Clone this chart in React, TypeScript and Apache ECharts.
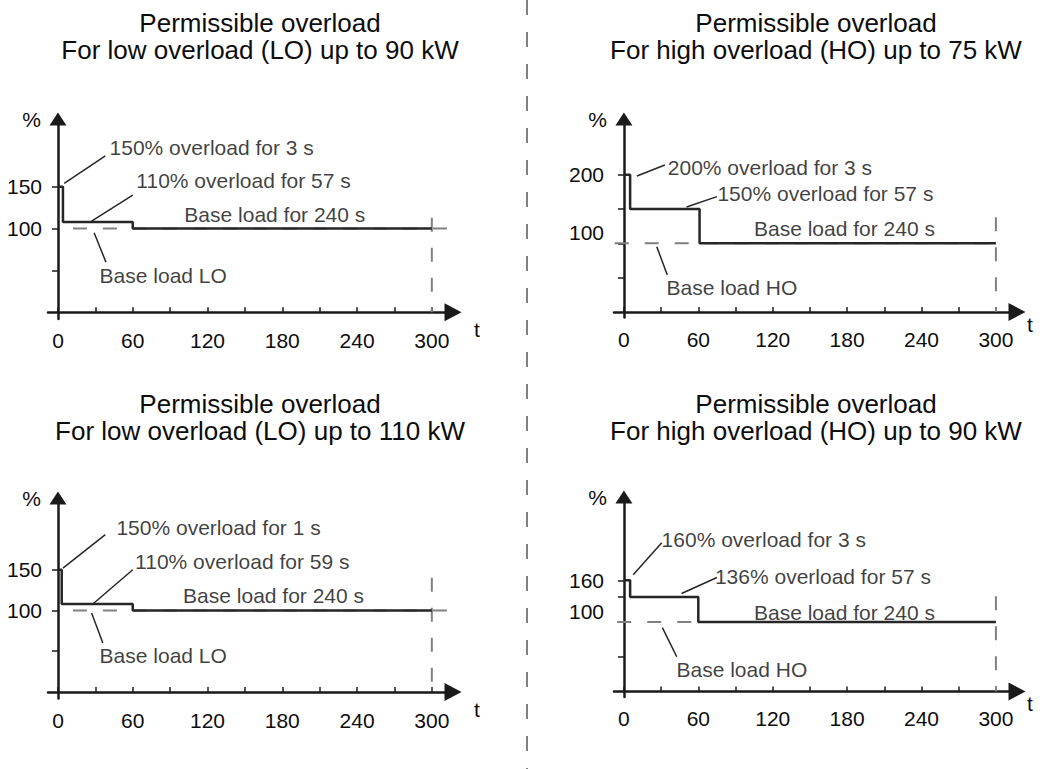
import React, { useEffect, useRef } from 'react';
import * as echarts from 'echarts';

const FONT = '"Liberation Sans", Arial, Helvetica, sans-serif';
const AXIS_COLOR = '#1a1a1a';
const TEXT_COLOR = '#0d0d0d';
const LINE_COLOR = '#262626';
const DASH_COLOR = '#808080';

// ---- shared axis values ----
const xTickValues = [0, 30, 60, 90, 120, 150, 180, 210, 240, 270, 300];
const xLabelValues = [0, 60, 120, 180, 240, 300];
const titleLine1 = 'Permissible overload';

// ---- panel 1: LO up to 90 kW ----
const p1Title = 'For low overload (LO) up to 90 kW';
const p1Step = [[0, 150], [4, 108], [60, 100], [300, 100]];
const p1YTicks = [50, 100, 150];
const p1YLabels = [100, 150];
const p1Base = [[12, 100], [365, 100]];
const p1End = [[300, 113], [300, 0]];
const p1Leaders = [
  [[5, 154], [38, 187]],
  [[27, 109], [60, 140]],
  [[29, 95], [38.5, 60]],
];
const p1Notes: [string, number, number][] = [
  ['150% overload for 3 s', 41, 197],
  ['110% overload for 57 s', 62.5, 157],
  ['Base load for 240 s', 101, 117],
  ['Base load LO', 33, 44],
];

// ---- panel 2: HO up to 75 kW ----
const p2Title = 'For high overload (HO) up to 75 kW';
const p2Step = [[0, 200], [5, 150], [61, 100], [300, 100]];
const p2YTicks = [50, 100, 150, 200];
const p2YLabels = [100, 200];
const p2Base = [[-80, 100], [306, 100]];
const p2End = [[300, 138], [300, 0]];
const p2Leaders = [
  [[10.5, 198], [33, 214]],
  [[50.5, 153], [75, 168]],
  [[26.5, 95], [35, 54]],
];
const p2Notes: [string, number, number][] = [
  ['200% overload for 3 s', 35, 211],
  ['150% overload for 57 s', 75, 173],
  ['Base load for 240 s', 104.5, 122],
  ['Base load HO', 34, 35],
];

// ---- panel 3: LO up to 110 kW ----
const p3Title = 'For low overload (LO) up to 110 kW';
const p3Step = [[0, 150], [3, 108], [60, 100], [300, 100]];
const p3YTicks = [50, 100, 150];
const p3YLabels = [100, 150];
const p3Base = [[12, 100], [365, 100]];
const p3End = [[300, 140], [300, 0]];
const p3Leaders = [
  [[4, 152], [38, 193]],
  [[28, 108], [60, 150]],
  [[27, 97], [36, 60]],
];
const p3Notes: [string, number, number][] = [
  ['150% overload for 1 s', 46.5, 202],
  ['110% overload for 59 s', 61.5, 160],
  ['Base load for 240 s', 100, 118],
  ['Base load LO', 33, 45],
];

// ---- panel 4: HO up to 90 kW ----
const p4Title = 'For high overload (HO) up to 90 kW';
const p4Step = [[0, 160], [5, 136], [60, 100], [300, 100]];
const p4YTicks = [50, 100, 136, 160];
const p4YLabels = [100, 160];
const p4Base = [[-78, 100], [304, 100]];
const p4End = [[300, 137], [300, 0]];
const p4Leaders = [
  [[7.5, 168], [30.5, 214]],
  [[46.5, 141], [75, 164]],
  [[31, 92], [42.6, 50]],
];
const p4Notes: [string, number, number][] = [
  ['160% overload for 3 s', 30, 219],
  ['136% overload for 57 s', 73, 165],
  ['Base load for 240 s', 104.5, 114],
  ['Base load HO', 42, 32],
];

// ---- layout (positions / sizes only) ----
const layouts = [
  { titleX: 260, titleY: 10, grid: { left: 48, top: 119, width: 405, height: 200 }, yMax: 231, ho: false },
  { titleX: 816, titleY: 10, grid: { left: 614, top: 119, width: 403, height: 198.5 }, yMax: 281, ho: true },
  { titleX: 260, titleY: 391, grid: { left: 48, top: 498, width: 405, height: 200.5 }, yMax: 238, ho: false },
  { titleX: 816, titleY: 391, grid: { left: 614, top: 497, width: 403, height: 200 }, yMax: 280, ho: true },
];

const panelData = [
  { title: p1Title, step: p1Step, yTicks: p1YTicks, yLabels: p1YLabels, base: p1Base, end: p1End, leaders: p1Leaders, notes: p1Notes },
  { title: p2Title, step: p2Step, yTicks: p2YTicks, yLabels: p2YLabels, base: p2Base, end: p2End, leaders: p2Leaders, notes: p2Notes },
  { title: p3Title, step: p3Step, yTicks: p3YTicks, yLabels: p3YLabels, base: p3Base, end: p3End, leaders: p3Leaders, notes: p3Notes },
  { title: p4Title, step: p4Step, yTicks: p4YTicks, yLabels: p4YLabels, base: p4Base, end: p4End, leaders: p4Leaders, notes: p4Notes },
];

function buildOption() {
  const textBase = { fontFamily: FONT, fontSize: 21, color: TEXT_COLOR };
  const titleStyle = { fontFamily: FONT, fontSize: 26, fontWeight: 'normal', color: TEXT_COLOR, lineHeight: 26 };
  const title: any[] = [];
  const grid: any[] = [];
  const xAxis: any[] = [];
  const yAxis: any[] = [];
  const series: any[] = [];

  panelData.forEach((p, i) => {
    const L = layouts[i];
    title.push({ text: titleLine1, left: L.titleX, top: L.titleY, textAlign: 'center', padding: 0, textStyle: titleStyle });
    title.push({ text: p.title, left: L.titleX, top: L.titleY + 27, textAlign: 'center', padding: 0, textStyle: titleStyle });
    grid.push({ ...L.grid, containLabel: false });
    xAxis.push({
      type: 'value',
      gridIndex: i,
      min: -8,
      max: 317,
      splitLine: { show: false },
      axisLine: {
        show: true,
        onZero: true,
        symbol: ['none', 'triangle'],
        symbolSize: [18, 17],
        lineStyle: { color: AXIS_COLOR, width: 2.5 },
      },
      axisTick: { show: true, inside: true, length: 5, customValues: xTickValues, lineStyle: { color: AXIS_COLOR, width: 1.5 } },
      axisLabel: { show: true, customValues: xLabelValues, margin: 11, ...textBase },
      name: 't',
      nameLocation: 'end',
      nameGap: L.ho ? 10 : 21,
      nameTextStyle: { ...textBase, align: 'left', verticalAlign: 'top', padding: [L.ho ? 2 : 7, 0, 0, 0] },
    });
    yAxis.push({
      type: 'value',
      gridIndex: i,
      min: -8,
      max: L.yMax,
      splitLine: { show: false },
      axisLine: {
        show: true,
        onZero: true,
        symbol: ['none', 'triangle'],
        symbolSize: [17, 13],
        lineStyle: { color: AXIS_COLOR, width: 2.5 },
      },
      axisTick: { show: true, inside: false, length: 6, customValues: p.yTicks, lineStyle: { color: AXIS_COLOR, width: 1.5 } },
      axisLabel: {
        show: true,
        customValues: p.yLabels,
        margin: L.ho ? 10 : 6,
        lineHeight: 21,
        formatter: (v: number) => (L.ho && v === 100 ? '100\n ' : String(v)),
        ...textBase,
      },
      name: '%',
      nameLocation: 'end',
      nameGap: 0,
      nameTextStyle: { ...textBase, align: 'right', verticalAlign: 'middle', padding: [0, 17, 0, 0] },
    });

    series.push({
      type: 'line',
      xAxisIndex: i,
      yAxisIndex: i,
      data: p.step,
      step: 'end',
      symbol: 'none',
      z: 5,
      silent: true,
      lineStyle: { color: LINE_COLOR, width: 2.5 },
      markLine: {
        silent: true,
        symbol: ['none', 'none'],
        label: { show: false },
        emphasis: { disabled: true },
        lineStyle: { type: 'solid', color: LINE_COLOR, width: 1.5 },
        data: p.leaders.map(([a, b]) => [{ coord: a }, { coord: b }]),
      },
    });
    series.push({
      type: 'line',
      xAxisIndex: i,
      yAxisIndex: i,
      data: p.base,
      symbol: 'none',
      clip: false,
      z: 2,
      silent: true,
      lineStyle: { color: DASH_COLOR, width: 2, type: [14, 16] },
    });
    series.push({
      type: 'line',
      xAxisIndex: i,
      yAxisIndex: i,
      data: p.end,
      symbol: 'none',
      clip: false,
      z: 2,
      silent: true,
      lineStyle: { color: DASH_COLOR, width: 2, type: [14, 16] },
    });
    series.push({
      type: 'scatter',
      xAxisIndex: i,
      yAxisIndex: i,
      symbolSize: 1,
      silent: true,
      itemStyle: { color: 'transparent' },
      data: p.notes.map(([t, x, y]) => ({ name: t, value: [x, y] })),
      label: { show: true, position: 'right', distance: 0, formatter: '{b}', ...textBase },
    });
  });

  return {
    animation: false,
    backgroundColor: '#ffffff',
    title,
    grid,
    xAxis,
    yAxis,
    series,
    graphic: [
      {
        type: 'line',
        shape: { x1: 527, y1: 0, x2: 527, y2: 769 },
        style: { stroke: DASH_COLOR, lineWidth: 2, lineDash: [15, 17] },
        silent: true,
      },
    ],
  };
}

export default function App() {
  const ref = useRef<HTMLDivElement>(null);
  useEffect(() => {
    if (!ref.current) return;
    const chart = echarts.init(ref.current, undefined, { renderer: 'svg' });
    chart.setOption(buildOption() as any);
    return () => chart.dispose();
  }, []);
  return (
    <div
      ref={ref}
      style={{ position: 'fixed', left: 0, top: 0, width: 1046, height: 769, background: '#fff' }}
    />
  );
}
